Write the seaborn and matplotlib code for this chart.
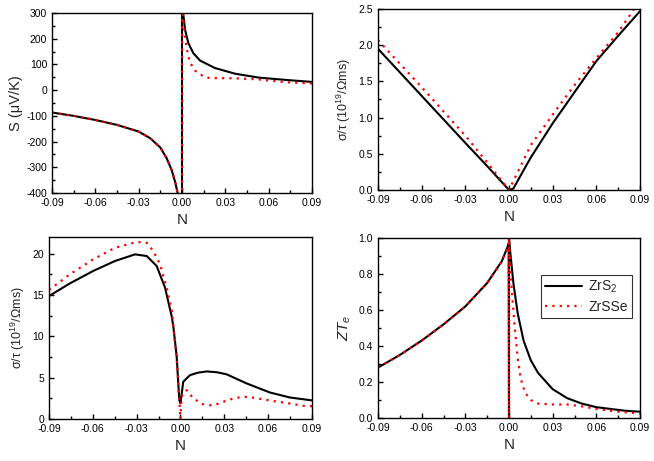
import numpy as np
import pandas as pd
import matplotlib
matplotlib.use('Agg')
import matplotlib.pyplot as plt
from matplotlib.ticker import MultipleLocator
import seaborn as sns

# Seebeck coefficient S (uV/K)
n_s_zrs2 = [-0.09, -0.075, -0.06, -0.045, -0.03, -0.022, -0.015, -0.0106, -0.0072, -0.0048, -0.003, -0.002,
            0.0, 0.0, 0.0008, 0.0021, 0.0044, 0.0078, 0.0125, 0.0228, 0.0367, 0.0528, 0.0713, 0.09]
s_zrs2 = [-87, -100, -116, -135, -161, -187, -223, -265, -310, -356, -400, -440,
          -1000, 1000, 300, 235, 183, 144, 115, 86, 64, 49, 40, 32]
n_s_zrsse = [-0.09, -0.075, -0.06, -0.045, -0.03, -0.022, -0.015, -0.0106, -0.0072, -0.0048, -0.003, -0.002,
             0.0, 0.0, 0.0005, 0.0021, 0.0039, 0.0055, 0.009, 0.015, 0.0194, 0.0367, 0.0528, 0.0713, 0.09]
s_zrsse = [-87, -100, -116, -135, -161, -187, -223, -265, -310, -356, -400, -440,
           -1000, 1000, 300, 203, 144, 108, 76, 53, 47, 46, 42, 31, 26]

# sigma/tau (1e19 / Ohm m s)
n_c = [-0.09, -0.06, -0.03, -0.015, 0.0, 0.003, 0.008, 0.015, 0.03, 0.045, 0.06, 0.075, 0.09]
c_zrs2 = [1.95, 1.30, 0.65, 0.33, 0.0, 0.02, 0.2, 0.45, 0.92, 1.35, 1.78, 2.13, 2.47]
n_c_se = [-0.09, -0.06, -0.03, -0.015, 0.0, 0.015, 0.03, 0.045, 0.06, 0.075, 0.086]
c_zrsse = [2.07, 1.42, 0.75, 0.38, 0.0, 0.62, 1.04, 1.45, 1.82, 2.18, 2.50]

# power factor panel
n_p = [-0.09, -0.0756, -0.0597, -0.0448, -0.0311, -0.0231, -0.0163, -0.0106, -0.006, -0.0049, -0.0026,
       -0.0015, -0.0008, 0.0, 0.0019, 0.0065, 0.012, 0.018, 0.025, 0.0316, 0.0453, 0.0613, 0.0749, 0.09]
p_zrs2 = [14.86, 16.4, 17.9, 19.1, 19.9, 19.7, 18.5, 15.9, 12.4, 11.2, 7.6,
          4.3, 2.3, 1.9, 4.5, 5.3, 5.6, 5.75, 5.65, 5.4, 4.3, 3.2, 2.6, 2.25]
n_p_se = [-0.09, -0.0756, -0.0597, -0.0448, -0.03, -0.0231, -0.0186, -0.014, -0.0095, -0.006, -0.0038,
          -0.0022, -0.0008, 0.0, 0.0007, 0.0042, 0.0088, 0.015, 0.0203, 0.0264, 0.031, 0.0367, 0.0424,
          0.0467, 0.0525, 0.0626, 0.0738, 0.0841, 0.09]
p_zrsse = [15.6, 17.5, 19.3, 20.7, 21.4, 21.3, 20.3, 18.7, 15.9, 13.2, 9.2,
           6.4, 2.3, 0.0, 2.7, 3.5, 2.5, 1.8, 1.66, 1.86, 2.2, 2.5, 2.67,
           2.67, 2.5, 2.2, 1.9, 1.6, 1.55]

# electronic ZT
n_z = [-0.09, -0.075, -0.06, -0.045, -0.03, -0.015, -0.005, -0.001, -0.0002, 0.0, 0.0, 0.0005,
       0.003, 0.006, 0.01, 0.015, 0.02, 0.03, 0.04, 0.05, 0.06, 0.07, 0.08, 0.09]
z_zrs2 = [0.28, 0.35, 0.43, 0.52, 0.62, 0.75, 0.87, 0.95, 0.97, 0.0, 1.0, 0.95,
          0.75, 0.58, 0.43, 0.32, 0.25, 0.16, 0.11, 0.08, 0.06, 0.05, 0.04, 0.035]
n_z_se = [-0.09, -0.075, -0.06, -0.045, -0.03, -0.015, -0.005, -0.001, -0.0002, 0.0, 0.0, 0.0005,
          0.002, 0.004, 0.006, 0.008, 0.011, 0.015, 0.02, 0.03, 0.04, 0.05, 0.06, 0.075, 0.09]
z_zrsse = [0.28, 0.35, 0.43, 0.52, 0.62, 0.75, 0.87, 0.95, 0.97, 0.0, 1.0, 0.9,
           0.7, 0.5, 0.33, 0.22, 0.14, 0.10, 0.08, 0.075, 0.075, 0.065, 0.05, 0.035, 0.025]

x_ticks = [-0.09, -0.06, -0.03, 0.0, 0.03, 0.06, 0.09]

sns.set_style('ticks')
plt.rcParams['font.family'] = ['Liberation Sans', 'DejaVu Sans']
plt.rcParams['mathtext.fontset'] = 'custom'
plt.rcParams['mathtext.rm'] = 'Liberation Sans'
plt.rcParams['mathtext.it'] = 'Liberation Sans:italic'
plt.rcParams['axes.unicode_minus'] = False

fig = plt.figure(figsize=(6.54, 4.61), dpi=100)
ax1 = fig.add_axes([0.0795, 0.5813, 0.3976, 0.3905])
ax2 = fig.add_axes([0.578, 0.5879, 0.4006, 0.3926])
ax3 = fig.add_axes([0.0749, 0.0911, 0.4021, 0.3948])
ax4 = fig.add_axes([0.578, 0.0933, 0.4006, 0.3905])


def draw(ax, x1, y1, x2, y2):
    sns.lineplot(x=x1, y=y1, ax=ax, color='black', linewidth=1.5, estimator=None, sort=False, label='ZrS$_2$')
    sns.lineplot(x=x2, y=y2, ax=ax, color='red', linewidth=1.6, linestyle=(0, (1, 2.3)),
                 estimator=None, sort=False, label='ZrSSe')


draw(ax1, n_s_zrs2, s_zrs2, n_s_zrsse, s_zrsse)
draw(ax2, n_c, c_zrs2, n_c_se, c_zrsse)
draw(ax3, n_p, p_zrs2, n_p_se, p_zrsse)
draw(ax4, n_z, z_zrs2, n_z_se, z_zrsse)

ax1.set_ylim(-400, 300)
ax1.yaxis.set_major_locator(MultipleLocator(100))
ax1.yaxis.set_minor_locator(MultipleLocator(50))
ax1.set_ylabel('S (\u03bcV/K)', fontsize=10.5, labelpad=2)

ax2.set_ylim(0, 2.5)
ax2.yaxis.set_major_locator(MultipleLocator(0.5))
ax2.yaxis.set_minor_locator(MultipleLocator(0.25))
ax2.set_ylabel('\u03c3/\u03c4 (10$^{19}$/\u03a9ms)', fontsize=9)
ax2.set_yticks(ax2.get_yticks())
ax2.set_yticklabels([f'{v:.1f}' for v in ax2.get_yticks()])

ax3.set_ylim(0, 22)
ax3.yaxis.set_major_locator(MultipleLocator(5))
ax3.yaxis.set_minor_locator(MultipleLocator(2.5))
ax3.set_ylabel('\u03c3/\u03c4 (10$^{19}$/\u03a9ms)', fontsize=9)

ax4.set_ylim(0, 1.0)
ax4.yaxis.set_major_locator(MultipleLocator(0.2))
ax4.yaxis.set_minor_locator(MultipleLocator(0.1))
ax4.set_ylabel('$ZT_e$', fontsize=11)
ax4.set_yticks(ax4.get_yticks())
ax4.set_yticklabels([f'{v:.1f}' for v in ax4.get_yticks()])

for ax in [ax1, ax2, ax3, ax4]:
    ax.set_xlim(-0.09, 0.09)
    ax.set_xticks(x_ticks)
    ax.set_xticklabels([f'{v:.2f}' for v in x_ticks])
    ax.xaxis.set_minor_locator(MultipleLocator(0.015))
    ax.set_xlabel('N', fontsize=11)
    ax.tick_params(which='both', direction='in', labelsize=7.5, width=1, colors='black')
    ax.tick_params(which='major', length=3.6)
    ax.tick_params(which='minor', length=2)
    for sp in ax.spines.values():
        sp.set_visible(True)
        sp.set_linewidth(1.0)
        sp.set_color('black')
    if ax is not ax4:
        ax.get_legend().remove()

ax2.set_ylim(0, 2.5)
ax4.set_ylim(0, 1.0)

leg = ax4.legend(loc='upper right', bbox_to_anchor=(0.97, 0.795), frameon=True, fancybox=False,
                 edgecolor='black', fontsize=10, handlelength=2.6, borderpad=0.3, labelspacing=0.35,
                 handletextpad=0.5, borderaxespad=0)
leg.get_frame().set_linewidth(0.8)

fig.savefig('out.png', dpi=100)
